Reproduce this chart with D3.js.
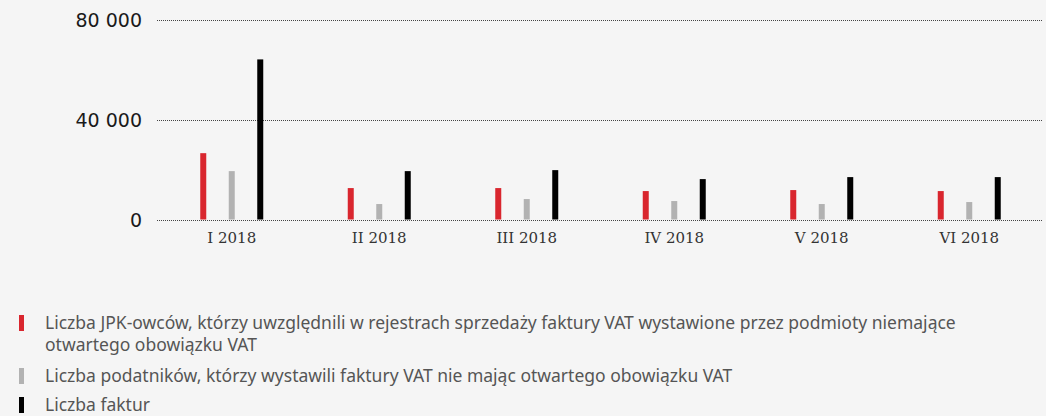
<!DOCTYPE html>
<html>
<head>
<meta charset="utf-8">
<script src="https://cdn.jsdelivr.net/npm/d3@7"></script>
<style>
  html, body { margin: 0; padding: 0; background: #f5f5f5; }
  svg { display: block; }
</style>
</head>
<body>
<svg id="chart" width="1046" height="416"></svg>
<script>
// data
const categories = ["I 2018", "II 2018", "III 2018", "IV 2018", "V 2018", "VI 2018"];
const seriesKeys = ["jpk", "podatnicy", "faktury"];
const jpkValues = [26600, 12600, 12600, 11400, 11800, 11400];
const podatnicyValues = [19400, 6200, 8200, 7400, 6200, 7000];
const fakturyValues = [64200, 19400, 19800, 16200, 17000, 17000];
const yTicks = [0, 40000, 80000];
const legendLabels = [
  ["Liczba JPK-owców, którzy uwzględnili w rejestrach sprzedaży faktury VAT wystawione przez podmioty niemające",
   "otwartego obowiązku VAT"],
  ["Liczba podatników, którzy wystawili faktury VAT nie mając otwartego obowiązku VAT"],
  ["Liczba faktur"]
];
const colors = ["#d9262e", "#b2b2b2", "#000000"];

const svg = d3.select("#chart");

const x = d3.scaleBand().domain(categories).range([158, 1043]);
const xInner = d3.scaleBand().domain(seriesKeys).range([-42.75, 42.75]);
const y = d3.scaleLinear().domain([0, 80000]).range([219.5, 20]);

const rows = categories.map((c, i) => ({
  cat: c,
  jpk: jpkValues[i],
  podatnicy: podatnicyValues[i],
  faktury: fakturyValues[i]
}));

// dotted grid lines
svg.append("g")
  .selectAll("line")
  .data(yTicks)
  .join("line")
  .attr("x1", 157)
  .attr("x2", 1042)
  .attr("y1", d => Math.round(y(d)) + 0.5)
  .attr("y2", d => Math.round(y(d)) + 0.5)
  .attr("stroke", "#444")
  .attr("stroke-dasharray", "1,1");

// y tick labels
svg.append("g")
  .selectAll("text")
  .data(yTicks)
  .join("text")
  .attr("x", 142)
  .attr("y", d => y(d) + 7)
  .attr("text-anchor", "end")
  .attr("font-family", "DejaVu Sans")
  .attr("font-size", 19)
  .attr("fill", "#1a1a1a")
  .text(d => d3.format(",")(d).replace(/,/g, " "));

// bars
const groups = svg.append("g")
  .selectAll("g")
  .data(rows)
  .join("g")
  .attr("transform", d => `translate(${x(d.cat) + x.bandwidth() / 2},0)`);

const barW = 6;
groups.selectAll("rect")
  .data(d => seriesKeys.map((k, i) => ({ key: k, value: d[k], color: colors[i] })))
  .join("rect")
  .attr("x", d => xInner(d.key) + xInner.bandwidth() / 2 - barW / 2)
  .attr("width", barW)
  .attr("y", d => y(d.value))
  .attr("height", d => y(0) - y(d.value))
  .attr("fill", d => d.color);

// category labels
groups.append("text")
  .attr("y", 243)
  .attr("text-anchor", "middle")
  .attr("font-family", "DejaVu Serif")
  .attr("font-size", 15)
  .attr("fill", "#333")
  .text(d => d.cat);

// legend
const legendY = [323, 376, 405];
const legend = svg.append("g")
  .selectAll("g")
  .data(legendLabels)
  .join("g")
  .attr("transform", (d, i) => `translate(0,${legendY[i]})`);

legend.append("rect")
  .attr("x", 19)
  .attr("y", -8)
  .attr("width", 5)
  .attr("height", 16)
  .attr("fill", (d, i) => colors[i]);

legend.append("text")
  .attr("font-family", "Noto Sans")
  .attr("font-size", 17.5)
  .attr("fill", "#555")
  .selectAll("tspan")
  .data(d => d)
  .join("tspan")
  .attr("x", 45)
  .attr("y", (d, i) => 6 + i * 22)
  .text(d => d);
</script>
</body>
</html>
